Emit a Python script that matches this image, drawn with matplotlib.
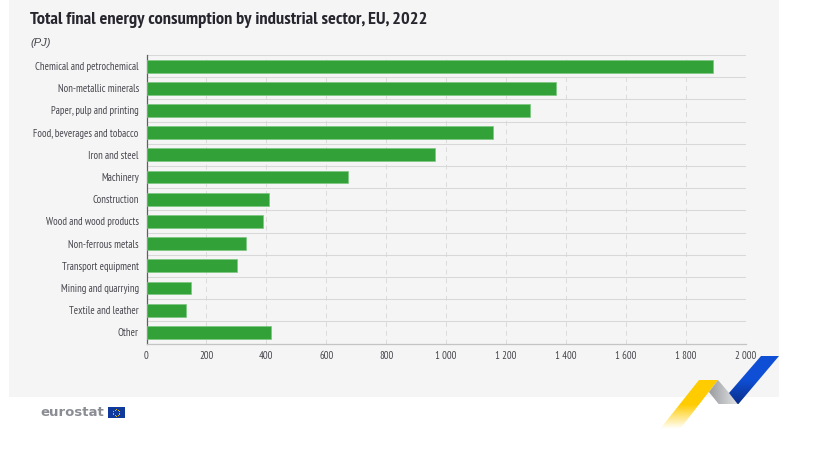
import numpy as np
import matplotlib
matplotlib.use("Agg")
import matplotlib.pyplot as plt
from matplotlib import font_manager as fm
from matplotlib.patches import Polygon, Rectangle
from matplotlib.colors import LinearSegmentedColormap

sectors = ["Chemical and petrochemical", "Non-metallic minerals", "Paper, pulp and printing",
           "Food, beverages and tobacco", "Iron and steel", "Machinery", "Construction",
           "Wood and wood products", "Non-ferrous metals", "Transport equipment",
           "Mining and quarrying", "Textile and leather", "Other"]
values = [1890, 1368, 1280, 1157, 963, 672, 410, 390, 333, 303, 148, 132, 416]
x_ticks = [0, 200, 400, 600, 800, 1000, 1200, 1400, 1600, 1800, 2000]
x_tick_labels = ["0", "200", "400", "600", "800", "1 000", "1 200", "1 400", "1 600", "1 800", "2 000"]
title = "Total final energy consumption by industrial sector, EU, 2022"
unit = "(PJ)"

names = {f.name for f in fm.fontManager.ttflist}
narrow = next((n for n in ["PT Sans Narrow", "Fira Sans Condensed", "Roboto Condensed", "Open Sans Condensed",
                           "Liberation Sans Narrow", "Liberation Sans"] if n in names))
plt.rcParams["font.family"] = [narrow, "DejaVu Sans"]

W, H = 818, 449
fig = plt.figure(figsize=(W / 100, H / 100), dpi=100, facecolor="white")

bg = fig.add_axes([0, 0, 1, 1], zorder=0)
bg.set_xlim(0, W); bg.set_ylim(H, 0); bg.axis("off")
bg.add_patch(Rectangle((9, 0), 770, 397, fc="#f5f5f5", ec="none"))

def grad_poly(pts, colors, extent, horizontal=False):
    cmap = LinearSegmentedColormap.from_list("g", colors)
    g = np.linspace(0, 1, 128)
    g = g.reshape(1, -1) if horizontal else g.reshape(-1, 1)
    im = bg.imshow(g, cmap=cmap, extent=extent, aspect="auto", zorder=2, origin="upper")
    im.set_clip_path(Polygon(pts, closed=True, transform=bg.transData))

grad_poly([(699, 380), (718, 380), (680, 429), (660, 429)],
          [(1, 0.8, 0, 1), (1, 0.8, 0, 1), (1, 0.8, 0, 0)], (660, 718, 429, 380))
grad_poly([(718, 380), (739, 404.5), (719, 404.5), (709, 392)],
          ["#9a9ca0", "#e6e6e8"], (709, 739, 404.5, 380), horizontal=True)
grad_poly([(761, 356), (779, 356), (738, 404.5), (729, 393)],
          ["#0f4fd6", "#0f4fd6", "#0a2e8a"], (729, 779, 404.5, 356))
bg.set_xlim(0, W); bg.set_ylim(H, 0)

bg.text(40.5, 412.5, "eurostat", fontsize=9.5, fontweight="bold", color="#8a8d93",
        family=["DejaVu Sans"], va="center", ha="left")
bg.add_patch(Rectangle((108, 407), 16.5, 11, fc="#0f3a9c", ec="none"))
for a in np.linspace(0, 2 * np.pi, 12, endpoint=False):
    bg.plot(116.2 + 3.2 * np.cos(a), 412.5 + 3.2 * np.sin(a), "o", ms=0.7, color="#e8c400", mew=0)

ax = fig.add_axes([146.5 / W, 1 - 343.5 / H, (745.5 - 146.5) / W, (343.5 - 55) / H], zorder=1)
ax.patch.set_alpha(0)
y = np.arange(len(sectors))
ax.barh(y, values, height=0.58, color="#32a137", edgecolor="#7cc67f", linewidth=0.5, zorder=3)
ax.set_ylim(len(sectors) - 0.5, -0.5)
ax.set_xlim(0, 2000)
ax.set_yticks(y, sectors)
ax.set_xticks(x_ticks, x_tick_labels)
ax.tick_params(axis="both", length=0, labelsize=7.65, labelcolor="#46464e")
ax.tick_params(axis="y", pad=5.5)
ax.tick_params(axis="x", pad=5.5)
for xt in x_ticks[1:]:
    ax.axvline(xt, color="#dcdcdc", lw=0.7, ls=(0, (5, 4)), zorder=1)
for b in y[:-1] + 0.5:
    ax.axhline(b, color="#d8d8d8", lw=0.75, zorder=1)
for s in ["top", "right"]:
    ax.spines[s].set_visible(False)
ax.axhline(-0.5, color="#d8d8d8", lw=0.75, zorder=1)
ax.spines["bottom"].set_color("#c4c4c4")
ax.spines["bottom"].set_linewidth(0.9)
ax.spines["left"].set_color("#606060")
ax.spines["left"].set_linewidth(0.9)

fig.text(30 / W, 1 - 20.5 / H, title, fontsize=13.2, fontweight="bold", color="#26262e", va="center", ha="left")
fig.text(30 / W, 1 - 42.5 / H, unit, fontsize=8, style="italic", color="#46464e", va="center", ha="left",
         family=["Liberation Sans", "DejaVu Sans"])

fig.savefig("out.png", dpi=100)
